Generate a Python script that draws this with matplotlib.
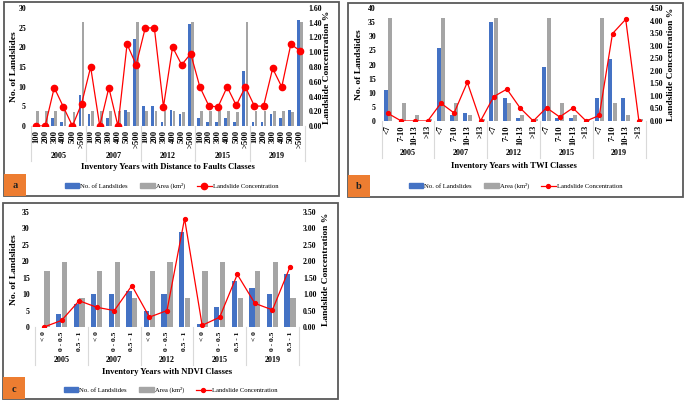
import numpy as np
import matplotlib
matplotlib.use("Agg")
import matplotlib.pyplot as plt
from matplotlib.patches import Rectangle, Patch
from matplotlib.lines import Line2D
from matplotlib.ticker import FormatStrFormatter

plt.rcParams['font.family'] = ['Liberation Serif', 'DejaVu Serif']

W, H = 685, 401
years = ['2005', '2007', '2012', '2015', '2019']

# panel a: distance to faults
fault_classes = ['100', '200', '300', '400', '500', '>500']
fault_landslides = [0, 0, 2, 1, 0, 8,
                    3, 0, 2, 0, 4, 22,
                    5, 5, 1, 4, 3, 26,
                    2, 1, 1, 2, 1, 14,
                    1, 1, 3, 2, 4, 27]
fault_area = [3.7, 3.7, 3.7, 3.7, 3.5, 26.5]
fault_conc = [0, 0, 0.52, 0.26, 0, 0.30,
              0.80, 0, 0.52, 0, 1.11, 0.83,
              1.33, 1.33, 0.26, 1.07, 0.83, 0.98,
              0.53, 0.27, 0.26, 0.53, 0.28, 0.53,
              0.27, 0.27, 0.78, 0.53, 1.11, 1.02]

# panel b: TWI
twi_classes = ['<7', '7-10', '10-13', '>13']
twi_landslides = [11, 0, 0, 0,
                  26, 2, 3, 0,
                  35, 8, 1, 0,
                  19, 1, 1, 0,
                  8, 22, 8, 0]
twi_area = [36.5, 6.3, 2.0, 0.8]
twi_conc = [0.30, 0, 0, 0,
            0.71, 0.32, 1.54, 0,
            0.97, 1.27, 0.52, 0,
            0.53, 0.16, 0.52, 0,
            0.22, 3.48, 4.05, 0]

# panel c: NDVI
ndvi_classes = ['< 0', '0 - 0.5', '0.5 - 1']
ndvi_landslides = [0, 4, 7,
                   10, 10, 11,
                   5, 10, 29,
                   1, 6, 14,
                   12, 10, 16]
ndvi_area = [17, 19.8, 8.8]
ndvi_conc = [0, 0.20, 0.80,
             0.60, 0.50, 1.26,
             0.30, 0.50, 3.30,
             0.05, 0.30, 1.60,
             0.72, 0.52, 1.83]

BLUE = '#4472C4'
GRAY = '#A5A5A5'
RED = '#FF0000'

fig = plt.figure(figsize=(W / 100, H / 100), dpi=100)


def draw_panel(frame, box, classes, nl, area, conc, lmax, rmax, rstep,
               xlabel, letter, ms, xts, lab_x, group_y, sep_y, xlab_y, leg_y):
    fx0, fy0, fx1, fy1 = frame
    fig.add_artist(Rectangle((fx0 / W, 1 - fy1 / H), (fx1 - fx0) / W, (fy1 - fy0) / H,
                             transform=fig.transFigure, fill=False,
                             edgecolor='#595959', lw=1.3))
    fig.add_artist(Rectangle((fx0 / W, 1 - fy1 / H), 22 / W, 22 / H,
                             transform=fig.transFigure, facecolor='#ED7D31',
                             edgecolor='none'))
    fig.text((fx0 + 11) / W, 1 - (fy1 - 10) / H, letter, fontsize=7.5,
             fontweight='bold', ha='center', va='center', color='#222222')

    x0, x1, yt, yb = box
    ax = fig.add_axes([x0 / W, 1 - yb / H, (x1 - x0) / W, (yb - yt) / H])
    n = len(classes) * len(years)
    x = np.arange(n)
    ax.bar(x - 0.17, nl, 0.3, color=BLUE)
    ax.bar(x + 0.17, area * len(years), 0.3, color=GRAY)
    ax.set_xlim(-0.5, n - 0.5)
    ax.set_ylim(0, lmax)
    ax.set_yticks(np.arange(0, lmax + 1, 5))
    ax.set_xticks(x)
    ax.set_xticklabels(classes * len(years), rotation=90, fontweight='bold', fontsize=xts)
    for s in ax.spines.values():
        s.set_visible(False)
    ax.tick_params(axis='both', length=0)
    ax.tick_params(axis='y', pad=4, labelsize=5.6)
    ax.tick_params(axis='x', pad=3)
    for t in ax.get_yticklabels():
        t.set_fontweight('bold')
    ax.set_ylabel('No. of Landslides', fontsize=6.8, fontweight='bold')
    ax.yaxis.set_label_coords((lab_x[0] - x0) / (x1 - x0), 0.5)

    ax2 = ax.twinx()
    ax2.plot(x, conc, color=RED, lw=0.9, marker='o', ms=ms)
    ax2.set_ylim(0, rmax)
    ax2.set_yticks(np.arange(0, rmax + 0.001, rstep))
    ax2.yaxis.set_major_formatter(FormatStrFormatter('%.2f'))
    for s in ax2.spines.values():
        s.set_visible(False)
    ax2.tick_params(axis='y', length=0, labelsize=5.6, pad=3)
    for t in ax2.get_yticklabels():
        t.set_fontweight('bold')
    ax2.set_ylabel('Landslide Concentration %', fontsize=6.8, fontweight='bold')
    ax2.yaxis.set_label_coords((lab_x[1] - x0) / (x1 - x0), 0.5)

    hpx = yb - yt
    tr = ax.get_xaxis_transform()
    k = len(classes)
    for i in range(len(years) + 1):
        xb = -0.5 + i * k
        ax.plot([xb, xb], [0, -(sep_y - yb) / hpx], transform=tr, clip_on=False,
                color='#D9D9D9', lw=0.8)
    for i, yr in enumerate(years):
        ax.text(i * k + (k - 1) / 2, -(group_y - yb) / hpx, yr, transform=tr,
                ha='center', va='center', fontsize=5.8, fontweight='bold')
    ax.text(0.5, -(xlab_y - yb) / hpx, xlabel, transform=ax.transAxes,
            ha='center', va='center', fontsize=6.2, fontweight='bold')

    handles = [Patch(color=BLUE), Patch(color=GRAY),
               Line2D([], [], color=RED, lw=0.9, marker='o', ms=ms)]
    fig.legend(handles, ['No. of Landslides', 'Area (km²)', 'Landslide Concentration'],
               loc='center', bbox_to_anchor=((fx0 + fx1) / 2 / W, 1 - leg_y / H),
               ncol=3, frameon=False, fontsize=4.8, handlelength=2.2, handleheight=0.6,
               columnspacing=1.8, handletextpad=0.15)


draw_panel((4, 2, 339, 196), (31.5, 304.5, 8, 126), fault_classes,
           fault_landslides, fault_area, fault_conc, 30, 1.6, 0.2,
           'Inventory Years with Distance to Faults Classes', 'a', 4.5, 6.2,
           (18, 323), 156, 161, 167, 186)

draw_panel((348, 3, 683, 197), (381.5, 645.5, 8, 121), twi_classes,
           twi_landslides, twi_area, twi_conc, 40, 4.5, 0.5,
           'Inventory Years with TWI Classes', 'b', 2.8, 6.0,
           (363, 667), 153, 158, 166, 186)

draw_panel((3, 203, 338, 399), (35.2, 298.8, 212, 327), ndvi_classes,
           ndvi_landslides, ndvi_area, ndvi_conc, 35, 3.5, 0.5,
           'Inventory Years with NDVI Classes', 'c', 2.8, 5.4,
           (18, 322), 360, 365, 372, 390)

fig.savefig('out.png', dpi=100)
